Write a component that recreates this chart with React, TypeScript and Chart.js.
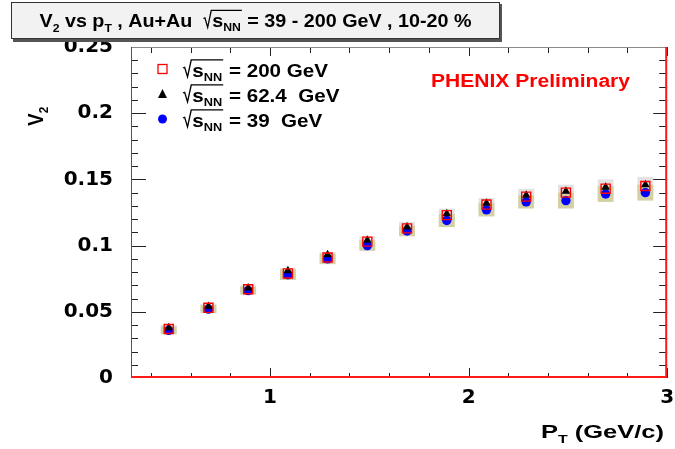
import React, { useEffect, useRef } from "react";
import { Chart, registerables } from "chart.js";

Chart.register(...registerables);

// Mean pT of each bin (GeV/c)
const pt = [0.49, 0.69, 0.89, 1.09, 1.29, 1.49, 1.69, 1.89, 2.09, 2.29, 2.49, 2.69, 2.89];

// v2 for 10-20% central Au+Au at three beam energies
const v2_200 = [0.037, 0.053, 0.067, 0.079, 0.091, 0.103, 0.113, 0.123, 0.131, 0.137, 0.140, 0.143, 0.145];
const v2_624 = [0.038, 0.054, 0.068, 0.081, 0.093, 0.104, 0.114, 0.124, 0.132, 0.138, 0.141, 0.144, 0.146];
const v2_39 = [0.036, 0.052, 0.066, 0.078, 0.090, 0.100, 0.111, 0.119, 0.127, 0.133, 0.134, 0.139, 0.140];

// systematic uncertainties (half heights of the shaded boxes)
const sys_200 = [0.003, 0.003, 0.003, 0.004, 0.004, 0.004, 0.005, 0.005, 0.005, 0.006, 0.006, 0.007, 0.007];
const sys_39 = [0.003, 0.003, 0.003, 0.004, 0.004, 0.004, 0.004, 0.005, 0.005, 0.005, 0.006, 0.006, 0.006];

const energyLabels = ["= 200 GeV", "= 62.4  GeV", "= 39  GeV"];
const xTickValues = [1, 2, 3];
const yTickValues = [0, 0.05, 0.1, 0.15, 0.2, 0.25];

const FONT = '"Liberation Sans", Arial, Helvetica, sans-serif';
const SYS_HALF_WIDTH = 0.04;

type Seg = { t: string; sub?: boolean; sqrt?: { base: string; sub: string } };

function segWidth(ctx: CanvasRenderingContext2D, s: Seg, size: number): number {
  if (s.sqrt) {
    ctx.font = `bold ${size}px ${FONT}`;
    const b = ctx.measureText(s.sqrt.base).width;
    ctx.font = `bold ${size * 0.62}px ${FONT}`;
    const n = ctx.measureText(s.sqrt.sub).width;
    return size * 0.45 + b + n + size * 0.05;
  }
  ctx.font = `bold ${s.sub ? size * 0.62 : size}px ${FONT}`;
  return ctx.measureText(s.t).width;
}

function segsWidth(ctx: CanvasRenderingContext2D, segs: Seg[], size: number): number {
  return segs.reduce((acc, s) => acc + segWidth(ctx, s, size), 0);
}

// Draws a line of bold text with subscripts and a radical sign, starting at (0,0) on the baseline
function drawSegs(ctx: CanvasRenderingContext2D, segs: Seg[], size: number, color: string) {
  let cx = 0;
  ctx.fillStyle = color;
  ctx.strokeStyle = color;
  ctx.textBaseline = "alphabetic";
  ctx.textAlign = "left";
  for (const s of segs) {
    if (s.sqrt) {
      const w = segWidth(ctx, s, size);
      ctx.lineWidth = 1.2;
      ctx.beginPath();
      ctx.moveTo(cx, -0.46 * size);
      ctx.lineTo(cx + 0.08 * size, -0.5 * size);
      ctx.lineTo(cx + 0.22 * size, 0.02 * size);
      ctx.lineTo(cx + 0.4 * size, -0.9 * size);
      ctx.lineTo(cx + w, -0.9 * size);
      ctx.stroke();
      let ix = cx + 0.45 * size;
      ctx.font = `bold ${size}px ${FONT}`;
      ctx.fillText(s.sqrt.base, ix, 0);
      ix += ctx.measureText(s.sqrt.base).width;
      ctx.font = `bold ${size * 0.62}px ${FONT}`;
      ctx.fillText(s.sqrt.sub, ix, size * 0.22);
      cx += w;
    } else if (s.sub) {
      ctx.font = `bold ${size * 0.62}px ${FONT}`;
      ctx.fillText(s.t, cx, size * 0.25);
      cx += ctx.measureText(s.t).width;
    } else {
      ctx.font = `bold ${size}px ${FONT}`;
      ctx.fillText(s.t, cx, 0);
      cx += ctx.measureText(s.t).width;
    }
  }
}

// Text is squeezed or widened horizontally by `stretch`
function drawRich(
  ctx: CanvasRenderingContext2D,
  segs: Seg[],
  x: number,
  y: number,
  size: number,
  color: string,
  stretch: number,
  rotate = false
) {
  ctx.save();
  ctx.translate(x, y);
  if (rotate) {
    ctx.rotate(-Math.PI / 2);
    ctx.scale(1, stretch);
  } else {
    ctx.scale(stretch, 1);
  }
  drawSegs(ctx, segs, size, color);
  ctx.restore();
}

function fitStretch(ctx: CanvasRenderingContext2D, segs: Seg[], size: number, width: number) {
  return width / segsWidth(ctx, segs, size);
}

const sqrtS: Seg = { t: "", sqrt: { base: "s", sub: "NN" } };

const titleSegs: Seg[] = [
  { t: "V" },
  { t: "2", sub: true },
  { t: " vs p" },
  { t: "T", sub: true },
  { t: " , Au+Au  " },
  sqrtS,
  { t: " = 39 - 200 GeV , 10-20 %" },
];

// Shaded systematic boxes behind the markers
const sysBoxPlugin = {
  id: "sysBoxes",
  beforeDatasetsDraw(chart: any) {
    const { ctx, scales } = chart;
    const x = scales.x;
    const y = scales.y;
    ctx.save();
    const boxes: [number[], number[], string][] = [
      [v2_200, sys_200, "#e3e3e3"],
      [v2_39, sys_39, "#d3d0a4"],
    ];
    for (const [vals, errs, color] of boxes) {
      ctx.fillStyle = color;
      pt.forEach((p, i) => {
        const x0 = x.getPixelForValue(p - SYS_HALF_WIDTH);
        const x1 = x.getPixelForValue(p + SYS_HALF_WIDTH);
        const y0 = y.getPixelForValue(vals[i] + errs[i]);
        const y1 = y.getPixelForValue(vals[i] - errs[i]);
        ctx.fillRect(x0, y0, x1 - x0, y1 - y0);
      });
    }
    ctx.restore();
  },
};

// Frame with inward ticks on all four sides, titles, legend and labels
const decorPlugin = {
  id: "decor",
  afterDatasetsDraw(chart: any) {
    const { ctx, chartArea, scales } = chart;
    const { left, right, top, bottom } = chartArea;
    const x = scales.x;
    const y = scales.y;
    ctx.save();
    ctx.strokeStyle = "#222";
    ctx.lineWidth = 1;
    for (let k = 2; k <= 15; k++) {
      const v = k * 0.2;
      const px = Math.round(x.getPixelForValue(v)) + 0.5;
      const major = k % 5 === 0;
      ctx.beginPath();
      ctx.moveTo(px, bottom);
      ctx.lineTo(px, bottom - (major ? 10 : 5));
      ctx.moveTo(px, top);
      ctx.lineTo(px, top + (major ? 9 : 6));
      ctx.stroke();
    }
    for (let k = 1; k <= 24; k++) {
      const v = k * 0.01;
      const py = Math.round(y.getPixelForValue(v)) + 0.5;
      const major = k % 5 === 0;
      ctx.beginPath();
      ctx.moveTo(left, py);
      ctx.lineTo(left + (major ? 15 : 7), py);
      ctx.moveTo(right, py);
      ctx.lineTo(right - (major ? 14 : 8), py);
      ctx.stroke();
    }
    ctx.strokeStyle = "#8a8a8a";
    ctx.beginPath();
    ctx.moveTo(left, top + 0.5);
    ctx.lineTo(right, top + 0.5);
    ctx.stroke();
    ctx.strokeStyle = "#555";
    ctx.beginPath();
    ctx.moveTo(left + 0.5, top);
    ctx.lineTo(left + 0.5, bottom);
    ctx.stroke();
    ctx.strokeStyle = "#ff1a1a";
    ctx.lineWidth = 2;
    ctx.beginPath();
    ctx.moveTo(left, bottom - 1);
    ctx.lineTo(right, bottom - 1);
    ctx.moveTo(right - 1, top);
    ctx.lineTo(right - 1, bottom);
    ctx.stroke();
    ctx.restore();
  },
  afterDraw(chart: any) {
    const { ctx } = chart;
    ctx.save();
    // title box with shadow
    const boxL = 11;
    const boxR = 500;
    ctx.fillStyle = "#555";
    ctx.fillRect(boxL + 2, 4, boxR - boxL, 38);
    ctx.fillStyle = "#f2f2f2";
    ctx.fillRect(boxL, 2, boxR - boxL, 37);
    ctx.strokeStyle = "#333";
    ctx.lineWidth = 1;
    ctx.strokeRect(boxL + 0.5, 2.5, boxR - boxL - 1, 36);
    const titleSize = 18.5;
    const titleW = 432;
    drawRich(
      ctx,
      titleSegs,
      (boxL + boxR - titleW) / 2,
      27,
      titleSize,
      "#000",
      fitStretch(ctx, titleSegs, titleSize, titleW)
    );

    // legend
    const rows = [69, 94, 119];
    ctx.strokeStyle = "#ff0000";
    ctx.lineWidth = 1.3;
    ctx.strokeRect(158, rows[0] - 4.5, 9, 9);
    ctx.fillStyle = "#000";
    ctx.beginPath();
    ctx.moveTo(162.5, rows[1] - 5);
    ctx.lineTo(167, rows[1] + 4);
    ctx.lineTo(158, rows[1] + 4);
    ctx.closePath();
    ctx.fill();
    ctx.fillStyle = "#0000ff";
    ctx.beginPath();
    ctx.arc(162.5, rows[2], 4.5, 0, Math.PI * 2);
    ctx.fill();
    const legSize = 18.5;
    const legStretch = fitStretch(ctx, [sqrtS, { t: " " + energyLabels[0] }], legSize, 145);
    energyLabels.forEach((lab, i) => {
      drawRich(ctx, [sqrtS, { t: " " + lab }], 183, rows[i] + 7.5, legSize, "#000", legStretch);
    });

    // preliminary tag
    const tag: Seg[] = [{ t: "PHENIX Preliminary" }];
    drawRich(ctx, tag, 431, 87, 18, "#ff0000", fitStretch(ctx, tag, 18, 199));

    // axis titles
    drawRich(ctx, [{ t: "V" }, { t: "2", sub: true }], 43, 126, 19, "#000", 1.12, true);
    const xt: Seg[] = [{ t: "P" }, { t: "T", sub: true }, { t: " (GeV/c)" }];
    drawRich(ctx, xt, 541, 438, 19, "#000", fitStretch(ctx, xt, 19, 123));
    ctx.restore();
  },
};

const tickFont = { family: '"DejaVu Sans", sans-serif', size: 20, weight: "bold" as const };

export default function App() {
  const canvasRef = useRef<HTMLCanvasElement | null>(null);

  useEffect(() => {
    const canvas = canvasRef.current;
    if (!canvas) return;
    const chart = new Chart(canvas, {
      type: "scatter",
      data: {
        datasets: [
          {
            label: "200 GeV",
            data: pt.map((p, i) => ({ x: p, y: v2_200[i] })),
            pointStyle: "rect",
            pointRadius: 6.4,
            pointBorderWidth: 1.4,
            borderColor: "#ff0000",
            backgroundColor: "rgba(0,0,0,0)",
            order: 0,
          },
          {
            label: "62.4 GeV",
            data: pt.map((p, i) => ({ x: p, y: v2_624[i] })),
            pointStyle: "triangle",
            pointRadius: 5,
            pointBorderWidth: 0,
            borderColor: "#000",
            backgroundColor: "#000",
            order: 1,
          },
          {
            label: "39 GeV",
            data: pt.map((p, i) => ({ x: p, y: v2_39[i] })),
            pointStyle: "circle",
            pointRadius: 4.7,
            pointBorderWidth: 0,
            borderColor: "#0000ff",
            backgroundColor: "#0000ff",
            order: 2,
          },
        ],
      },
      options: {
        responsive: false,
        animation: false,
        events: [],
        layout: { padding: { top: 47, right: 4, left: 0, bottom: 0 } },
        plugins: {
          legend: { display: false },
          tooltip: { enabled: false },
        },
        scales: {
          x: {
            type: "linear",
            min: 0.3,
            max: 3,
            grid: { display: false, drawTicks: false },
            border: { display: false },
            afterBuildTicks: (s: any) => {
              s.ticks = xTickValues.map((v) => ({ value: v }));
            },
            afterFit: (s: any) => {
              s.height = 71;
              s.paddingLeft = 0;
              s.paddingRight = 0;
            },
            ticks: {
              font: tickFont,
              color: "#000",
              padding: 8,
              maxRotation: 0,
              autoSkip: false,
              callback: (v: any) => String(v),
            },
          },
          y: {
            type: "linear",
            min: 0,
            max: 0.25,
            grid: { display: false, drawTicks: false },
            border: { display: false },
            afterBuildTicks: (s: any) => {
              s.ticks = yTickValues.map((v) => ({ value: v }));
            },
            afterFit: (s: any) => {
              s.width = 131;
              s.paddingTop = 0;
              s.paddingBottom = 0;
            },
            ticks: {
              font: tickFont,
              color: "#000",
              padding: 18,
              autoSkip: false,
              callback: (v: any) => String(+Number(v).toFixed(2)),
            },
          },
        },
      },
      plugins: [sysBoxPlugin, decorPlugin],
    });
    return () => chart.destroy();
  }, []);

  return (
    <div style={{ position: "absolute", left: 0, top: 0, width: 675, height: 449, background: "#fff" }}>
      <canvas ref={canvasRef} width={675} height={449} style={{ display: "block" }} />
    </div>
  );
}
